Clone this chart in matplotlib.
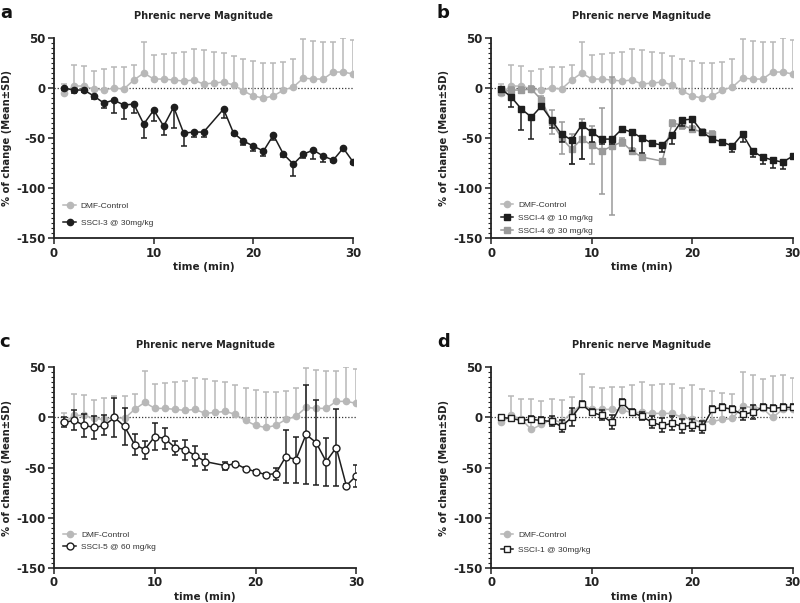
import numpy as np
import matplotlib
matplotlib.use('Agg')
import matplotlib.pyplot as plt
from matplotlib.ticker import MultipleLocator

plt.rcParams['axes.unicode_minus'] = False

nan = np.nan
time = np.arange(1, 31)

# DMF-Control (panels a, b, c)
ctrl_mean = [-5, 2, 2, -1, -2, 0, -1, 8, 15, 9, 9, 8, 7, 8, 4, 5, 6, 3, -3, -8,
             -10, -8, -2, 1, 10, 9, 9, 16, 16, 14]
ctrl_sd = [9, 21, 20, 18, 21, 21, 22, 15, 31, 24, 25, 27, 29, 31, 34, 31, 29, 29, 32, 35,
           35, 33, 28, 28, 39, 38, 37, 30, 34, 34]

# DMF-Control (panel d)
ctrl_d_mean = [-5, 2, -2, -12, -7, -2, -5, 5, 13, 8, 8, 8, 7, 5, 5, 4, 4, 4, 0, -2,
               -5, -4, -2, -1, 11, 10, 9, 0, 8, 8]
ctrl_d_sd = [5, 19, 20, 30, 23, 20, 22, 15, 30, 22, 21, 22, 23, 27, 30, 28, 29, 29, 29, 34,
             33, 30, 26, 24, 34, 32, 29, 41, 34, 31]

# SSCI-3 @ 30mg/kg
ssci3_mean = [0, -2, -2, -8, -15, -12, -17, -16, -36, -22, -38, -19, -45, -44, -44, nan, -21, -45, -53, -58,
              -63, -47, -66, -76, -66, -62, -68, -72, -60, -74]
ssci3_sd = [2, 3, 2, 3, 5, 13, 14, 9, 14, 11, 9, 21, 13, 5, 5, nan, 9, 2, 4, 5,
            5, 5, 3, 12, 4, 9, 6, 2, 2, 2]

# SSCI-4 @ 10 mg/kg
ssci4a_mean = [-1, -9, -21, -29, -18, -32, -46, -52, -37, -44, -51, -51, -41, -44, -50, -55, -57, -47, -32, -31,
               -44, -51, -54, -58, -46, -63, -69, -72, -74, -68]
ssci4a_sd = [2, 10, 21, 22, 3, 8, 8, 24, 34, 10, 5, 5, 3, 19, 15, 2, 7, 9, 6, 11,
             2, 2, 2, 6, 8, 6, 7, 8, 7, 2]

# SSCI-4 @ 30 mg/kg
ssci4b_mean = [-4, -2, -2, -1, -12, -34, -50, -61, -51, -57, -63, -58, -54, -63, -69, nan, -73, -35, -37, -41,
               -44, -46, nan, nan, nan, nan, nan, nan, nan, nan]
ssci4b_sd = [3, 3, 3, 3, 4, 12, 16, 15, 20, 19, 43, 69, 4, 3, 2, nan, 2, 3, 4, 3,
             3, 3, nan, nan, nan, nan, nan, nan, nan, nan]

# SSCI-5 @ 60 mg/kg
ssci5_mean = [-5, -3, -8, -10, -8, 0, -9, -27, -32, -19, -21, -30, -32, -38, -44, nan, -48, -46, -51, -54,
              -57, -56, -39, -42, -17, -25, -44, -30, -68, -58]
ssci5_sd = [5, 10, 11, 11, 10, 19, 18, 10, 9, 13, 10, 7, 10, 10, 8, nan, 4, 2, 2, 2,
            2, 6, 26, 23, 49, 42, 24, 38, 2, 11]

# SSCI-1 @ 30mg/kg
ssci1_mean = [0, -1, -3, -2, -3, -4, -9, 0, 13, 5, 2, -5, 15, 5, 1, -5, -8, -6, -9, -8,
              -10, 8, 10, 8, 3, 5, 10, 9, 10, 10]
ssci1_sd = [2, 2, 2, 3, 3, 5, 6, 9, 3, 3, 5, 7, 3, 3, 4, 6, 7, 7, 7, 6,
            6, 3, 3, 3, 6, 7, 3, 3, 3, 3]

LGRAY = '#b8b8b8'
MGRAY = '#9a9a9a'
DARK = '#1e1e1e'


def series(ax, mean, sd, label, side, color, marker, mfc, ms=4.5, z=2):
    m = np.array(mean, dtype=float)
    s = np.array(sd, dtype=float)
    ok = ~np.isnan(m)  # skip missing time points, line joins neighbours
    x = time[ok]
    m = m[ok]
    s = s[ok]
    lo = s if side in ('both', 'down') else np.zeros_like(s)
    hi = s if side in ('both', 'up') else np.zeros_like(s)
    ax.errorbar(x, m, yerr=[lo, hi], fmt='-', color=color, marker=marker, mfc=mfc, mec=color,
                ms=ms, lw=1.1, elinewidth=1.1, capsize=2.5, capthick=1.1, label=label, zorder=z)


def style(ax, letter):
    ax.set_xlim(0, 30)
    ax.set_ylim(-150, 50)
    ax.axhline(0, color='#333333', lw=0.9, ls=(0, (1, 1.5)), zorder=1)
    for sp in ['top', 'right']:
        ax.spines[sp].set_visible(False)
    for sp in ['left', 'bottom']:
        ax.spines[sp].set_linewidth(1.3)
        ax.spines[sp].set_color('#222222')
    ax.set_xticks([0, 10, 20, 30])
    ax.set_yticks([50, 0, -50, -100, -150])
    ax.yaxis.set_minor_locator(MultipleLocator(5))
    ax.tick_params(axis='both', which='major', length=4, width=1.1, labelsize=8.5, colors='#222222', pad=2)
    ax.tick_params(axis='y', which='minor', length=2, width=0.8, colors='#222222')
    for lab in ax.get_xticklabels() + ax.get_yticklabels():
        lab.set_fontweight('bold')
    ax.set_xlabel('time (min)', fontsize=7.5, fontweight='bold', color='#222222', labelpad=2)
    ax.set_ylabel('% of change (Mean±SD)', fontsize=7.2, fontweight='bold', color='#222222')
    ax.yaxis.set_label_coords(-0.14, 0.5)
    ax.set_title('Phrenic nerve Magnitude', fontsize=7, fontweight='bold', color='#222222', pad=14)
    ax.text(-0.18, 1.17, letter, transform=ax.transAxes, fontsize=13, fontweight='bold',
            color='#111111', va='top', ha='left')


def legend(ax, spacing, ypos):
    # only the line+marker part of each errorbar goes in the legend
    handles, labels = ax.get_legend_handles_labels()
    handles = [h[0] for h in handles]
    lg = ax.legend(handles, labels, loc='lower left', bbox_to_anchor=(0.02, ypos), frameon=False,
                   prop={'family': 'Liberation Sans', 'size': 6}, handlelength=1.5,
                   handletextpad=0.6, labelspacing=spacing, borderaxespad=0)
    for t in lg.get_texts():
        t.set_color('#333333')


fig = plt.figure(figsize=(8, 6.03), dpi=100)

ax_a = fig.add_axes([0.0675, 0.605, 0.374, 0.332])
ax_b = fig.add_axes([0.614, 0.605, 0.377, 0.332])
ax_c = fig.add_axes([0.0675, 0.058, 0.378, 0.333])
ax_d = fig.add_axes([0.614, 0.058, 0.377, 0.333])

#====== a
series(ax_a, ctrl_mean, ctrl_sd, 'DMF-Control', 'up', LGRAY, 'o', LGRAY)
series(ax_a, ssci3_mean, ssci3_sd, 'SSCI-3 @ 30mg/kg', 'down', DARK, 'o', DARK, z=3)
style(ax_a, 'a')
legend(ax_a, 1.1, 0.04)

#====== b
series(ax_b, ctrl_mean, ctrl_sd, 'DMF-Control', 'up', LGRAY, 'o', LGRAY)
series(ax_b, ssci4a_mean, ssci4a_sd, 'SSCI-4 @ 10 mg/kg', 'down', DARK, 's', DARK, z=4)
series(ax_b, ssci4b_mean, ssci4b_sd, 'SSCI-4 @ 30 mg/kg', 'both', MGRAY, 's', MGRAY, z=3)
style(ax_b, 'b')
legend(ax_b, 0.6, 0.0)

#====== c
series(ax_c, ctrl_mean, ctrl_sd, 'DMF-Control', 'up', LGRAY, 'o', LGRAY)
series(ax_c, ssci5_mean, ssci5_sd, 'SSCI-5 @ 60 mg/kg', 'both', DARK, 'o', 'white', ms=5, z=3)
style(ax_c, 'c')
legend(ax_c, 0.5, 0.07)

#====== d
series(ax_d, ctrl_d_mean, ctrl_d_sd, 'DMF-Control', 'up', LGRAY, 'o', LGRAY)
series(ax_d, ssci1_mean, ssci1_sd, 'SSCI-1 @ 30mg/kg', 'both', DARK, 's', 'white', ms=5, z=3)
style(ax_d, 'd')
legend(ax_d, 0.8, 0.055)

fig.savefig('out.png', dpi=100)
